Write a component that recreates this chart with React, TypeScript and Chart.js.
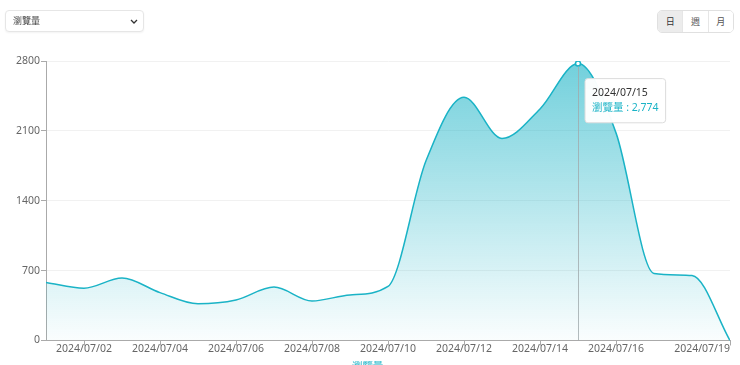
import React, { useEffect, useRef } from 'react';
import { Chart, registerables, Tooltip } from 'chart.js';

Chart.register(...registerables);

const dates = [
  '2024/07/01', '2024/07/02', '2024/07/03', '2024/07/04', '2024/07/05',
  '2024/07/06', '2024/07/07', '2024/07/08', '2024/07/09', '2024/07/10',
  '2024/07/11', '2024/07/12', '2024/07/13', '2024/07/14', '2024/07/15',
  '2024/07/16', '2024/07/17', '2024/07/18', '2024/07/19',
];
const views = [581, 524, 626, 480, 368, 406, 535, 396, 457, 541, 1800, 2436, 2024, 2320, 2774, 2080, 672, 652, 0];
const xTickIndex = [0, 1, 3, 5, 7, 9, 11, 13, 15, 18];
const yTicks = [0, 700, 1400, 2100, 2800];
const seriesName = '瀏覽量';
const activeIndex = 14;
const periodButtons = ['日', '週', '月'];

const TEAL = '#1ab3c6';
const FONT = "'Noto Sans', 'Noto Sans CJK TC', sans-serif";

(Tooltip.positioners as any).belowRight = function (items: any[]) {
  if (!items.length) return false;
  const el = items[0].element;
  return { x: el.x + 10, y: el.y + 15 };
};

const hoverLine = {
  id: 'hoverLine',
  afterDatasetsDraw(chart: any) {
    const act = chart.tooltip && chart.tooltip.getActiveElements ? chart.tooltip.getActiveElements() : [];
    if (!act.length) return;
    const el = act[0].element;
    const x = Math.round(el.x) + 0.5;
    const { bottom } = chart.chartArea;
    const c = chart.ctx;
    c.save();
    c.strokeStyle = 'rgba(160,170,172,0.8)';
    c.lineWidth = 1;
    c.beginPath();
    c.moveTo(x, el.y + 3);
    c.lineTo(x, bottom);
    c.stroke();
    c.restore();
  },
};

export default function App() {
  const ref = useRef<HTMLCanvasElement>(null);

  useEffect(() => {
    if (!ref.current) return;
    const chart = new Chart(ref.current, {
      type: 'line',
      data: {
        datasets: [
          {
            label: seriesName,
            data: views.map((v, i) => ({ x: i, y: v })),
            borderColor: TEAL,
            borderWidth: 1.5,
            cubicInterpolationMode: 'monotone',
            fill: 'origin',
            backgroundColor: (ctx: any) => {
              const { chart } = ctx;
              const area = chart.chartArea;
              if (!area) return 'rgba(26,179,198,0.3)';
              const g = chart.ctx.createLinearGradient(0, area.top, 0, area.bottom);
              g.addColorStop(0, 'rgba(26,179,198,0.62)');
              g.addColorStop(1, 'rgba(26,179,198,0.02)');
              return g;
            },
            pointRadius: 0,
            pointHoverRadius: 2.5,
            pointHoverBackgroundColor: '#fff',
            pointHoverBorderColor: TEAL,
            pointHoverBorderWidth: 1.5,
          } as any,
        ],
      },
      options: {
        responsive: false,
        animation: false,
        events: [],
        layout: { padding: { top: 61, right: 10, left: 0, bottom: 3 } },
        scales: {
          x: {
            type: 'linear',
            min: 0,
            max: 18,
            afterBuildTicks: (scale: any) => {
              scale.ticks = xTickIndex.map((v) => ({ value: v }));
            },
            afterFit: (scale: any) => {
              scale.height = 17;
            },
            border: { color: '#aaa', width: 1 },
            grid: {
              drawOnChartArea: false,
              drawTicks: true,
              tickLength: 5,
              tickColor: (ctx: any) => (ctx.index === 0 ? 'rgba(0,0,0,0)' : '#aaa'),
            },
            ticks: {
              autoSkip: false,
              maxRotation: 0,
              align: 'inner',
              padding: -3,
              color: '#666',
              font: { family: FONT, size: 10.5 },
              callback: (v: any) => (v === 0 ? '' : dates[v]),
            },
          },
          y: {
            min: 0,
            max: 2800,
            afterBuildTicks: (scale: any) => {
              scale.ticks = yTicks.map((v) => ({ value: v }));
            },
            afterFit: (scale: any) => {
              scale.width = 46;
            },
            border: { color: '#aaa', width: 1 },
            grid: {
              color: '#f1f1f1',
              tickColor: '#aaa',
              tickLength: 5,
            },
            ticks: {
              padding: 1,
              color: '#666',
              font: { family: FONT, size: 10.5 },
              callback: (v: any) => String(v),
            },
          },
        },
        plugins: {
          legend: {
            display: true,
            position: 'bottom',
            labels: {
              color: TEAL,
              font: { family: FONT, size: 10.5 },
              boxWidth: 0,
              boxHeight: 0,
              padding: 4,
              generateLabels: () => [
                {
                  text: seriesName,
                  fillStyle: 'rgba(0,0,0,0)',
                  strokeStyle: 'rgba(0,0,0,0)',
                  lineWidth: 0,
                  fontColor: TEAL,
                  hidden: false,
                  datasetIndex: 0,
                } as any,
              ],
            },
          },
          tooltip: {
            enabled: true,
            position: 'belowRight' as any,
            xAlign: 'left',
            yAlign: 'top',
            backgroundColor: 'rgba(255,255,255,0.97)',
            borderColor: '#dcdcdc',
            borderWidth: 1,
            titleColor: '#333',
            bodyColor: TEAL,
            titleFont: { family: FONT, size: 10.5, weight: 'normal' as any },
            bodyFont: { family: FONT, size: 10.5 },
            titleMarginBottom: 3,
            padding: { x: 7, y: 8 } as any,
            displayColors: false,
            caretSize: 0,
            caretPadding: 0,
            cornerRadius: 3,
            callbacks: {
              title: (items: any[]) => dates[items[0].parsed.x],
              label: (item: any) => `${seriesName} : ${item.parsed.y.toLocaleString('en-US')}`,
            },
          },
        },
      },
      plugins: [hoverLine],
    });

    chart.setActiveElements([{ datasetIndex: 0, index: activeIndex }]);
    chart.tooltip!.setActiveElements([{ datasetIndex: 0, index: activeIndex }], { x: 0, y: 0 });
    chart.update();

    return () => chart.destroy();
  }, []);

  return (
    <div
      style={{
        position: 'fixed',
        left: 0,
        top: 0,
        width: 740,
        height: 365,
        overflow: 'hidden',
        background: '#fff',
        fontFamily: FONT,
      }}
    >
      <canvas ref={ref} width={740} height={385} style={{ position: 'absolute', left: 0, top: 0 }} />
      <div
        style={{
          position: 'absolute',
          left: 5,
          top: 10,
          width: 139,
          height: 22,
          boxSizing: 'border-box',
          border: '1px solid #e6e6e6',
          borderRadius: 4,
          boxShadow: '0 1px 2px rgba(0,0,0,0.05)',
          background: '#fff',
        }}
      >
        <span style={{ position: 'absolute', left: 7, top: 0, lineHeight: '20px', fontSize: 9, color: '#444' }}>
          {seriesName}
        </span>
        <svg width="8" height="6" viewBox="0 0 8 6" style={{ position: 'absolute', left: 124, top: 8 }}>
          <polyline points="1,1 4,4 7,1" fill="none" stroke="#333" strokeWidth="1.3" />
        </svg>
      </div>
      <div
        style={{
          position: 'absolute',
          left: 657,
          top: 10,
          width: 77,
          height: 23,
          boxSizing: 'border-box',
          border: '1px solid #e0e0e0',
          borderRadius: 5,
          display: 'flex',
          overflow: 'hidden',
          background: '#fff',
        }}
      >
        {periodButtons.map((b, i) => (
          <div
            key={b}
            style={{
              flex: 1,
              textAlign: 'center',
              lineHeight: '21px',
              fontSize: 9,
              color: i === 0 ? '#333' : '#555',
              background: i === 0 ? '#ececec' : '#fff',
              borderRight: i < periodButtons.length - 1 ? '1px solid #e6e6e6' : 'none',
            }}
          >
            {b}
          </div>
        ))}
      </div>
    </div>
  );
}
